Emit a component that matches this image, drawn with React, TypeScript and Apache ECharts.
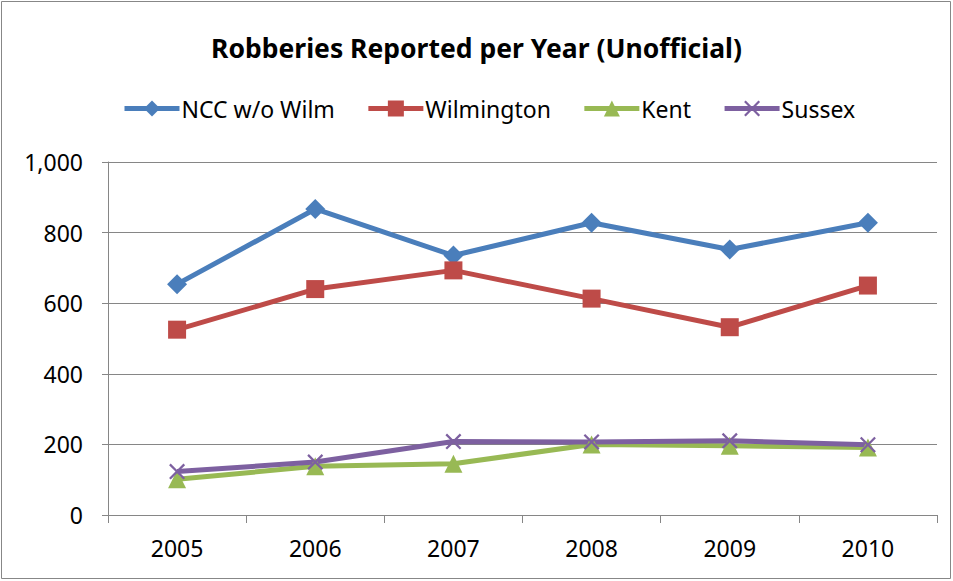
import React, { useEffect, useRef } from "react";
import * as echarts from "echarts";

const categories = ["2005", "2006", "2007", "2008", "2009", "2010"];
const nccWoWilm = [654, 867, 735, 828, 752, 828];
const wilmington = [525, 640, 693, 613, 532, 650];
const kent = [101, 138, 145, 200, 196, 191];
const sussex = [123, 150, 208, 207, 210, 199];
const yTicks = { min: 0, max: 1000, interval: 200 };

const FONT = "'Noto Sans', sans-serif";
const X_SYMBOL =
  "path://M0,1 L1,0 L5,4 L9,0 L10,1 L6,5 L10,9 L9,10 L5,6 L1,10 L0,9 L4,5 Z";

export default function App() {
  const ref = useRef<HTMLDivElement>(null);
  useEffect(() => {
    if (!ref.current) return;
    const chart = echarts.init(ref.current, null, { renderer: "svg" });
    const mk = (name: string, data: number[], color: string, symbol: string, size: number) => ({
      name,
      type: "line",
      data,
      symbol,
      symbolSize: size,
      lineStyle: { color, width: 5 },
      itemStyle: { color },
      emphasis: { disabled: true },
    });
    chart.setOption({
      animation: false,
      backgroundColor: "#fff",
      graphic: [
        {
          type: "rect",
          shape: { x: 1.5, y: 1.5, width: 949, height: 577 },
          style: { fill: "none", stroke: "#878787", lineWidth: 1 },
          silent: true,
        },
      ],
      title: {
        text: "Robberies Reported per Year (Unofficial)",
        left: "center",
        top: 29,
        textStyle: { fontFamily: FONT, fontSize: 26.5, fontWeight: "bold", color: "#000" },
      },
      legend: {
        top: 92,
        left: 117,
        itemWidth: 55,
        itemHeight: 20,
        itemGap: 31,
        lineStyle: { width: 5 },
        textStyle: { fontFamily: FONT, fontSize: 23, color: "#000", padding: [0, 0, 0, -3] },
        data: ["NCC w/o Wilm", "Wilmington", "Kent", "Sussex"],
      },
      grid: { left: 108, right: 16, top: 162, bottom: 66, containLabel: false },
      xAxis: {
        type: "category",
        data: categories,
        boundaryGap: true,
        axisLine: { lineStyle: { color: "#868686", width: 1 } },
        axisTick: { show: true, length: 8, inside: false, lineStyle: { color: "#868686" } },
        axisLabel: { fontFamily: FONT, fontSize: 23, color: "#000", margin: 21 },
      },
      yAxis: {
        type: "value",
        min: yTicks.min,
        max: yTicks.max,
        interval: yTicks.interval,
        axisLine: { show: true, lineStyle: { color: "#868686", width: 1 } },
        axisTick: { show: true, length: 6, lineStyle: { color: "#868686" } },
        splitLine: { lineStyle: { color: "#868686", width: 1 } },
        axisLabel: {
          fontFamily: FONT,
          fontSize: 23,
          color: "#000",
          margin: 25,
          formatter: (v: number) => v.toLocaleString("en-US"),
        },
      },
      series: [
        mk("NCC w/o Wilm", nccWoWilm, "#4A7EBB", "diamond", 20),
        mk("Wilmington", wilmington, "#BE4B48", "rect", 18),
        mk("Kent", kent, "#98B954", "triangle", 18),
        mk("Sussex", sussex, "#7D60A0", X_SYMBOL, 16),
      ],
    });
    return () => chart.dispose();
  }, []);
  return (
    <div
      ref={ref}
      style={{ position: "fixed", left: 0, top: 0, width: 953, height: 581 }}
    />
  );
}
